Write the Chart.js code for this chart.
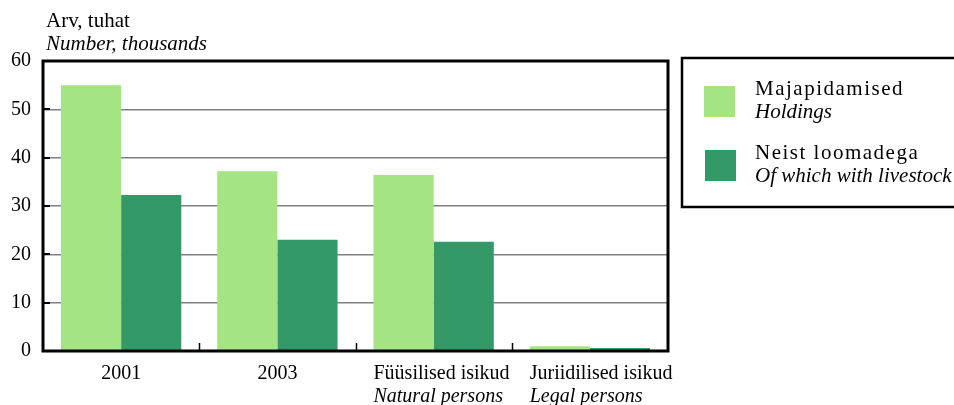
<!DOCTYPE html>
<html><head><meta charset="utf-8">
<script src="https://cdn.jsdelivr.net/npm/chart.js@4/dist/chart.umd.min.js"></script>
<style>html,body{margin:0;padding:0;background:#fff}#wrap{width:954px;height:405px;position:relative}</style>
</head><body><div id="wrap"><canvas id="c" width="954" height="405"></canvas></div>
<script>
const categoriesEt = ["2001", "2003", "Füüsilised isikud", "Juriidilised isikud"];
const categoriesEn = ["", "", "Natural persons", "Legal persons"];
const holdings = [55.0, 37.2, 36.4, 1.0];
const withLivestock = [32.3, 23.0, 22.6, 0.6];
const seriesEt = ["Majapidamised", "Neist loomadega"];
const seriesEn = ["Holdings", "Of which with livestock"];
const yTicks = [0, 10, 20, 30, 40, 50, 60];
const axisTitleEt = "Arv, tuhat";
const axisTitleEn = "Number, thousands";
const colors = ["#a4e482", "#339966"];
const FONT = "'Liberation Serif', 'Times New Roman', serif";

const deco = {
  id: 'deco',
  afterDraw(chart) {
    const ctx = chart.ctx, a = chart.chartArea, x = chart.scales.x;
    ctx.save();
    ctx.strokeStyle = '#000'; ctx.lineWidth = 1.5;
    for (let i = 1; i < categoriesEt.length; i++) {
      const px = Math.round((x.getPixelForValue(i - 1) + x.getPixelForValue(i)) / 2) + 0.5;
      ctx.beginPath(); ctx.moveTo(px, a.bottom); ctx.lineTo(px, a.bottom - 8); ctx.stroke();
    }
    const y = chart.scales.y;
    ctx.lineWidth = 2;
    yTicks.forEach(v => {
      const py = Math.round(y.getPixelForValue(v));
      ctx.beginPath(); ctx.moveTo(a.left, py); ctx.lineTo(a.left + 7, py); ctx.stroke();
    });
    ctx.lineWidth = 3;
    ctx.strokeRect(a.left, a.top, a.right - a.left, a.bottom - a.top);
    ctx.fillStyle = '#000'; ctx.textBaseline = 'alphabetic'; ctx.textAlign = 'left';
    ctx.font = '21px ' + FONT;
    ctx.fillText(axisTitleEt, 46, 27);
    ctx.font = 'italic 21px ' + FONT;
    ctx.fillText(axisTitleEn, 46, 50);
    // x labels: centred on group, but long ones start at the group's left edge
    const meta = chart.getDatasetMeta(0);
    ctx.textAlign = 'left';
    categoriesEt.forEach((c, i) => {
      const px = x.getPixelForValue(i);
      const gStart = meta.data[i].x - meta.data[i].width / 2;
      ctx.font = '20px ' + FONT;
      const w1 = ctx.measureText(c).width;
      const left = Math.max(px - w1 / 2, gStart);
      ctx.fillText(c, left, 379);
      if (categoriesEn[i]) { ctx.font = 'italic 20px ' + FONT; ctx.fillText(categoriesEn[i], left, 402); }
    });
    ctx.lineWidth = 2.5; ctx.strokeStyle = '#000';
    ctx.strokeRect(682, 58, 290, 149);
    const rows = [86, 150];
    chart.data.datasets.forEach((d, i) => {
      ctx.fillStyle = d.backgroundColor;
      ctx.fillRect(704 + i, rows[i], 31, 31);
      ctx.fillStyle = '#000';
      ctx.font = '21px ' + FONT;
      ctx.letterSpacing = '1.5px';
      ctx.fillText(seriesEt[i], 755, rows[i] + 9);
      ctx.letterSpacing = '0px';
      ctx.font = 'italic 21px ' + FONT;
      ctx.fillText(seriesEn[i], 755, rows[i] + 32);
    });
    ctx.restore();
  }
};

new Chart(document.getElementById('c'), {
  type: 'bar',
  data: {
    labels: categoriesEt,
    datasets: [
      { label: seriesEt[0], data: holdings, backgroundColor: colors[0] },
      { label: seriesEt[1], data: withLivestock, backgroundColor: colors[1] }
    ]
  },
  options: {
    responsive: false, animation: false,
    layout: { padding: { top: 61, right: 286, left: 0, bottom: 0 } },
    plugins: { legend: { display: false }, tooltip: { enabled: false } },
    datasets: { bar: { categoryPercentage: 0.77, barPercentage: 1.0, borderWidth: 0 } },
    scales: {
      x: {
        grid: { display: false, drawTicks: false },
        border: { display: false },
        ticks: { display: false },
        afterFit(s) { s.height = 54; }
      },
      y: {
        min: 0, max: 60,
        afterBuildTicks(s) { s.ticks = yTicks.map(v => ({ value: v })); },
        grid: { color: '#808080', lineWidth: 1.5, drawTicks: false },
        border: { display: false },
        ticks: { color: '#000', padding: 12, font: { family: FONT, size: 20 } },
        afterFit(s) { s.width = 43; }
      }
    }
  },
  plugins: [deco]
});
</script></body></html>
